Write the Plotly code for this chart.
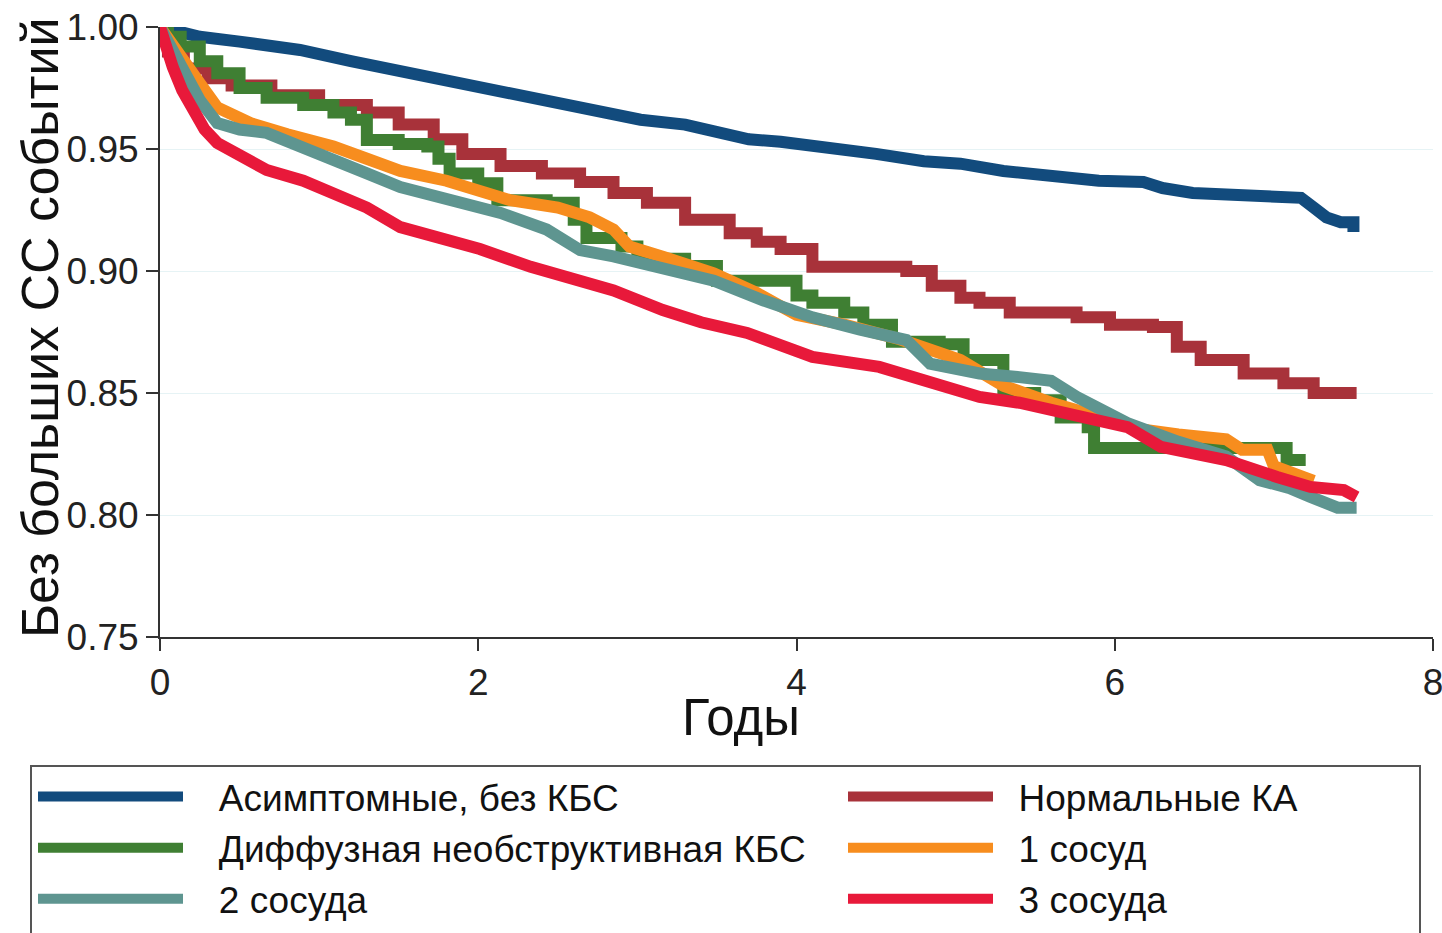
import plotly.graph_objects as go

# ---------------- data ----------------
names = ["Асимптомные, без КБС", "Нормальные КА", "Диффузная необструктивная КБС",
         "1 сосуд", "2 сосуда", "3 сосуда"]

t_asym = [0, 0.1, 0.25, 0.5, 0.88, 1.2, 1.51, 1.8, 2.01, 2.3, 2.51, 2.8, 3.02, 3.3, 3.52, 3.7, 3.9,
          4.2, 4.5, 4.8, 5.03, 5.3, 5.66, 5.9, 6.18, 6.3, 6.49, 6.8, 7.0, 7.17, 7.25, 7.33, 7.42, 7.5, 7.5]
s_asym = [1.0, 0.998, 0.996, 0.994, 0.9906, 0.986, 0.982, 0.978, 0.975, 0.971, 0.968, 0.965, 0.962,
          0.960, 0.956, 0.954, 0.953, 0.951, 0.948, 0.945, 0.944, 0.941, 0.9385, 0.937, 0.9365, 0.934,
          0.932, 0.931, 0.930, 0.930, 0.926, 0.922, 0.920, 0.920, 0.916]

t_norm = [0, 0.05, 0.15, 0.3, 0.45, 0.7, 1.0, 1.3, 1.5, 1.72, 1.9, 2.14, 2.4, 2.64, 2.85, 3.06, 3.3,
          3.58, 3.75, 3.9, 4.1, 4.69, 4.85, 5.03, 5.15, 5.34, 5.76, 5.97, 6.24, 6.39, 6.54, 6.81, 7.06,
          7.25, 7.52]
s_norm = [1.0, 0.99, 0.983, 0.979, 0.976, 0.972, 0.968, 0.965, 0.960, 0.954, 0.948, 0.943, 0.940,
          0.9365, 0.932, 0.928, 0.921, 0.9155, 0.912, 0.909, 0.9017, 0.900, 0.894, 0.889, 0.887, 0.883,
          0.881, 0.878, 0.877, 0.869, 0.8635, 0.858, 0.854, 0.850, 0.850]

t_diff = [0, 0.05, 0.13, 0.25, 0.36, 0.5, 0.67, 0.9, 1.09, 1.2, 1.3, 1.5, 1.68, 1.75, 1.82, 2.0, 2.12,
          2.43, 2.6, 2.68, 2.9, 3.0, 3.3, 3.5, 3.75, 4.0, 4.1, 4.3, 4.42, 4.6, 4.9, 5.05, 5.3, 5.5, 5.66,
          5.83, 5.87, 7.08, 7.2]
s_diff = [1.0, 0.996, 0.992, 0.986, 0.981, 0.975, 0.971, 0.968, 0.965, 0.962, 0.9537, 0.952, 0.951,
          0.946, 0.940, 0.936, 0.929, 0.928, 0.921, 0.9135, 0.910, 0.905, 0.902, 0.896, 0.896, 0.890,
          0.887, 0.883, 0.878, 0.871, 0.870, 0.8635, 0.850, 0.847, 0.840, 0.836, 0.8275, 0.8225, 0.8225]

t_v1 = [0, 0.1, 0.25, 0.36, 0.57, 0.8, 1.09, 1.3, 1.51, 1.8, 2.03, 2.2, 2.5, 2.7, 2.85, 2.95, 3.2,
        3.48, 3.75, 4.0, 4.3, 4.65, 5.03, 5.3, 5.6, 5.9, 6.18, 6.4, 6.7, 6.8, 6.96, 7.0, 7.2, 7.25]
s_v1 = [1.0, 0.99, 0.977, 0.967, 0.9606, 0.956, 0.951, 0.946, 0.941, 0.937, 0.933, 0.929, 0.926,
        0.922, 0.917, 0.910, 0.905, 0.899, 0.891, 0.882, 0.878, 0.872, 0.8635, 0.853, 0.846, 0.840,
        0.835, 0.833, 0.831, 0.8267, 0.8267, 0.820, 0.816, 0.814]

t_v2 = [0, 0.1, 0.25, 0.36, 0.5, 0.67, 0.9, 1.09, 1.3, 1.51, 1.8, 2.14, 2.43, 2.64, 2.85, 3.06, 3.3,
        3.48, 3.79, 4.1, 4.4, 4.69, 4.84, 5.15, 5.4, 5.6, 5.76, 6.08, 6.4, 6.7, 6.91, 7.1, 7.23, 7.4, 7.52]
s_v2 = [1.0, 0.988, 0.970, 0.9606, 0.958, 0.9566, 0.951, 0.9455, 0.940, 0.9344, 0.929, 0.9238, 0.917,
        0.9086, 0.906, 0.903, 0.899, 0.896, 0.888, 0.881, 0.876, 0.8717, 0.862, 0.858, 0.8565, 0.855,
        0.8484, 0.8377, 0.830, 0.824, 0.8143, 0.811, 0.8074, 0.803, 0.803]

t_v3 = [0, 0.03, 0.08, 0.14, 0.21, 0.28, 0.36, 0.5, 0.67, 0.9, 1.09, 1.3, 1.51, 1.8, 2.01, 2.33, 2.6,
        2.85, 3.16, 3.4, 3.69, 3.9, 4.1, 4.52, 4.94, 5.15, 5.4, 5.66, 6.08, 6.29, 6.7, 7.02, 7.23, 7.44, 7.52]
s_v3 = [1.0, 0.992, 0.9836, 0.974, 0.966, 0.958, 0.9525, 0.947, 0.9414, 0.937, 0.932, 0.926, 0.918,
        0.913, 0.909, 0.9017, 0.897, 0.892, 0.884, 0.879, 0.8746, 0.869, 0.8648, 0.8607, 0.8525, 0.8484,
        0.846, 0.8418, 0.836, 0.8279, 0.8225, 0.8156, 0.8115, 0.8102, 0.8074]

y_ticks = [0.75, 0.80, 0.85, 0.90, 0.95, 1.00]
y_ticklabels = ["0.75", "0.80", "0.85", "0.90", "0.95", "1.00"]
x_ticks = [0, 2, 4, 6, 8]
x_title = "Годы"
y_title = "Без больших СС событий"

# (name, times, survival, colour, line shape, legend column)
series = [
    (names[0], t_asym, s_asym, "#124B7D", "linear", "legend"),
    (names[1], t_norm, s_norm, "#A8323A", "hv", "legend2"),
    (names[2], t_diff, s_diff, "#3F7F33", "hv", "legend"),
    (names[3], t_v1, s_v1, "#F78D1E", "linear", "legend2"),
    (names[4], t_v2, s_v2, "#5E9590", "linear", "legend"),
    (names[5], t_v3, s_v3, "#E8193A", "linear", "legend2"),
]

W, H = 1442, 933
L, R, T, B = 160, 9, 27, 296
PW, PH = W - L - R, H - T - B

fig = go.Figure()
for nm, tx, sy, col, shp, lg in series:
    pad = "\u00a0\u00a0\u00a0" if lg == "legend" else "\u00a0\u00a0"
    fig.add_trace(go.Scatter(x=tx, y=sy, mode="lines", name=pad + nm, legend=lg,
                             line=dict(color=col, width=12, shape=shp)))

FONT = "Liberation Sans, Arial, sans-serif"
leg_common = dict(orientation="v", xref="container", yref="container", xanchor="left", yanchor="top",
                  itemwidth=145, tracegroupgap=0, bgcolor="rgba(0,0,0,0)", borderwidth=0,
                  font=dict(size=37, family=FONT, color="#111111"))

def px2paper_x(px):
    return (px - L) / PW

def px2paper_y(py):
    return (H - B - py) / PH

fig.update_layout(
    width=W, height=H,
    margin=dict(l=L, r=R, t=T, b=B, autoexpand=False),
    paper_bgcolor="white", plot_bgcolor="white",
    font=dict(family=FONT, color="#222222"),
    showlegend=True,
    legend=dict(x=33 / W, y=1 - 766 / H, **leg_common),
    legend2=dict(x=843 / W, y=1 - 766 / H, **leg_common),
    xaxis=dict(range=[0, 8], tickvals=x_ticks, showgrid=False, zeroline=False,
               showline=True, linecolor="#333333", linewidth=2,
               ticks="outside", ticklen=12, tickwidth=2, tickcolor="#333333",
               ticklabeloverflow="allow",
               tickfont=dict(size=37, family=FONT, color="#222222")),
    yaxis=dict(range=[0.75, 1.0], tickvals=y_ticks, ticktext=y_ticklabels,
               showgrid=True, gridcolor="#E6F3F5", gridwidth=1, zeroline=False,
               showline=True, linecolor="#333333", linewidth=2,
               ticks="outside", ticklen=12, tickwidth=2, tickcolor="#333333",
               tickfont=dict(size=37, family=FONT, color="#222222")),
    annotations=[
        dict(text=x_title, xref="paper", yref="paper",
             x=px2paper_x(741), y=px2paper_y(717), xanchor="center", yanchor="middle",
             showarrow=False, font=dict(size=51, family=FONT, color="#111111")),
        dict(text=y_title, xref="paper", yref="paper", textangle=-90,
             x=px2paper_x(40), y=px2paper_y(328), xanchor="center", yanchor="middle",
             showarrow=False, font=dict(size=52, family=FONT, color="#111111")),
    ],
    shapes=[dict(type="rect", xref="paper", yref="paper",
                 x0=px2paper_x(31), x1=px2paper_x(1420), y0=px2paper_y(766), y1=px2paper_y(945),
                 line=dict(color="#555555", width=2), fillcolor="rgba(0,0,0,0)", layer="above")],
)

fig.write_html("out.html")
